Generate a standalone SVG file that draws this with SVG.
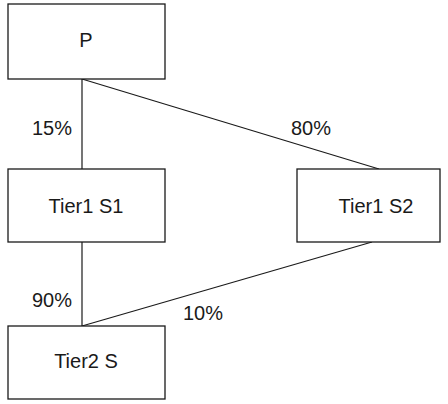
<svg xmlns="http://www.w3.org/2000/svg" width="448" height="404" viewBox="0 0 448 404">
  <style>
    .box { fill: #ffffff; stroke: #1a1a1a; stroke-width: 1.3; }
    .edge { fill: none; stroke: #1a1a1a; stroke-width: 1.2; }
    .lbl { font-family: "Liberation Sans", Arial, sans-serif; font-size: 20px; fill: #1a1a1a; }
    .mid { text-anchor: middle; }
  </style>
  <rect width="448" height="404" fill="#ffffff"/>
  <g id="connectors">
    <line class="edge" x1="82" y1="79" x2="82" y2="169"/>
    <line class="edge" x1="82" y1="79" x2="379" y2="169"/>
    <line class="edge" x1="82" y1="242" x2="82" y2="326"/>
    <line class="edge" x1="372" y1="242" x2="82" y2="326"/>
    <text class="lbl mid" x="52" y="135">15%</text>
    <text class="lbl mid" x="311" y="135">80%</text>
    <text class="lbl mid" x="52" y="307">90%</text>
    <text class="lbl mid" x="203" y="320">10%</text>
  </g>
  <g id="P">
    <rect class="box" x="8" y="4" width="157" height="75"/>
    <text class="lbl mid" x="86" y="47">P</text>
  </g>
  <g id="tier1-s1">
    <rect class="box" x="8" y="169" width="157" height="73"/>
    <text class="lbl mid" x="86" y="213">Tier1 S1</text>
  </g>
  <g id="tier1-s2">
    <rect class="box" x="297" y="169" width="143" height="73"/>
    <text class="lbl mid" x="376" y="213">Tier1 S2</text>
  </g>
  <g id="tier2-s">
    <rect class="box" x="8" y="326" width="157" height="73"/>
    <text class="lbl mid" x="86" y="368">Tier2 S</text>
  </g>
</svg>
